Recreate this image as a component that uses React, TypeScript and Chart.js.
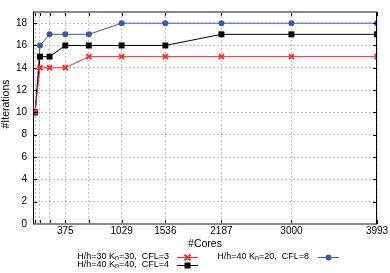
import React, { useEffect, useRef } from "react";
import { Chart, registerables } from "chart.js";

Chart.register(...registerables);

const cores = [24, 81, 192, 375, 648, 1029, 1536, 2187, 3000, 3993];
const labeledCores = [375, 1029, 1536, 2187, 3000, 3993];
const iterRed = [10, 14, 14, 14, 15, 15, 15, 15, 15, 15];
const iterBlack = [10, 15, 15, 16, 16, 16, 16, 17, 17, 17];
const iterBlue = [10, 16, 17, 17, 17, 18, 18, 18, 18, 18];
const yTickValues = [0, 2, 4, 6, 8, 10, 12, 14, 16, 18];
const seriesLabels = [
  "H/h=30 K_n=30,  CFL=3",
  "H/h=40 K_n=40,  CFL=4",
  "H/h=40 K_n=20,  CFL=8",
];
const xTitle = "#Cores";
const yTitle = "#Iterations";

const FONT = "'Liberation Sans', Arial, sans-serif";
const RED = "#ff2a2a";
const BLACK = "#000000";
const BLUE = "#3a58ab";

function drawMarker(ctx: CanvasRenderingContext2D, kind: number, x: number, y: number) {
  ctx.save();
  if (kind === 0) {
    ctx.strokeStyle = RED;
    ctx.lineWidth = 2;
    ctx.beginPath();
    ctx.moveTo(x - 3, y - 3);
    ctx.lineTo(x + 3, y + 3);
    ctx.moveTo(x + 3, y - 3);
    ctx.lineTo(x - 3, y + 3);
    ctx.stroke();
  } else if (kind === 1) {
    ctx.fillStyle = BLACK;
    ctx.fillRect(x - 3, y - 3, 6, 6);
  } else {
    ctx.fillStyle = BLUE;
    ctx.beginPath();
    ctx.arc(x, y, 3, 0, Math.PI * 2);
    ctx.fill();
  }
  ctx.restore();
}

function drawLabelRight(ctx: CanvasRenderingContext2D, label: string, xEnd: number, y: number) {
  const [pre, rest] = label.split("_");
  const sub = rest.charAt(0);
  const post = rest.slice(1);
  ctx.font = `9px ${FONT}`;
  const wPre = ctx.measureText(pre).width;
  const wPost = ctx.measureText(post).width;
  ctx.font = `7px ${FONT}`;
  const wSub = ctx.measureText(sub).width;
  let x = xEnd - (wPre + wSub + wPost);
  ctx.textAlign = "left";
  ctx.textBaseline = "middle";
  ctx.fillStyle = "#000";
  ctx.font = `9px ${FONT}`;
  ctx.fillText(pre, x, y);
  x += wPre;
  ctx.font = `7px ${FONT}`;
  ctx.fillText(sub, x, y + 2);
  x += wSub;
  ctx.font = `9px ${FONT}`;
  ctx.fillText(post, x, y);
}

const framePlugin = {
  id: "frame",
  afterDraw(chart: any) {
    const ctx: CanvasRenderingContext2D = chart.ctx;
    const { left, right, top, bottom } = chart.chartArea;
    const xs = chart.scales.x;
    const ys = chart.scales.y;
    ctx.save();
    // tick marks
    ctx.strokeStyle = "#000";
    ctx.lineWidth = 1;
    ctx.beginPath();
    cores.forEach((c) => {
      const px = Math.round(xs.getPixelForValue(c)) + 0.5;
      ctx.moveTo(px, bottom);
      ctx.lineTo(px, bottom - 4);
      ctx.moveTo(px, top);
      ctx.lineTo(px, top + 4);
    });
    yTickValues.forEach((v) => {
      const py = Math.round(ys.getPixelForValue(v)) + 0.5;
      ctx.moveTo(left, py);
      ctx.lineTo(left + 4, py);
      ctx.moveTo(right, py);
      ctx.lineTo(right - 4, py);
    });
    ctx.stroke();
    // border
    ctx.strokeStyle = "#888";
    ctx.lineWidth = 2;
    ctx.beginPath();
    ctx.moveTo(left, top);
    ctx.lineTo(right, top);
    ctx.moveTo(left, bottom);
    ctx.lineTo(right, bottom);
    ctx.stroke();
    ctx.strokeStyle = "#000";
    ctx.lineWidth = 1;
    ctx.beginPath();
    ctx.moveTo(Math.round(left) + 0.5, top);
    ctx.lineTo(Math.round(left) + 0.5, bottom);
    ctx.moveTo(Math.round(right) - 0.5, top);
    ctx.lineTo(Math.round(right) - 0.5, bottom);
    ctx.stroke();
    // titles
    ctx.fillStyle = "#000";
    ctx.font = `10.5px ${FONT}`;
    ctx.textAlign = "center";
    ctx.textBaseline = "middle";
    ctx.fillText(xTitle, (left + right) / 2, 244);
    ctx.save();
    ctx.translate(6, 104);
    ctx.rotate(-Math.PI / 2);
    ctx.fillText(yTitle, 0, 0);
    ctx.restore();
    // legend
    const cols = [
      { textEnd: 169, lineStart: 177, lineEnd: 198 },
      { textEnd: 309, lineStart: 318, lineEnd: 339 },
    ];
    const rows = [256.5, 264.5];
    const colors = [RED, BLACK, BLUE];
    const placement = [
      [0, 0],
      [0, 1],
      [1, 0],
    ];
    seriesLabels.forEach((label, i) => {
      const col = cols[placement[i][0]];
      const y = rows[placement[i][1]];
      drawLabelRight(ctx, label, col.textEnd, y);
      ctx.strokeStyle = colors[i];
      ctx.lineWidth = 1;
      ctx.beginPath();
      ctx.moveTo(col.lineStart, Math.round(y) + 0.5);
      ctx.lineTo(col.lineEnd, Math.round(y) + 0.5);
      ctx.stroke();
      drawMarker(ctx, i, (col.lineStart + col.lineEnd) / 2, Math.round(y) + 0.5);
    });
    ctx.restore();
  },
};

export default function App() {
  const ref = useRef<HTMLCanvasElement | null>(null);
  useEffect(() => {
    document.body.style.margin = "0";
    const canvas = ref.current;
    if (!canvas) return;
    const mk = (vals: number[]) => cores.map((c, i) => ({ x: c, y: vals[i] }));
    const chart = new Chart(canvas, {
      type: "line",
      data: {
        datasets: [
          {
            label: seriesLabels[0],
            data: mk(iterRed),
            borderColor: RED,
            backgroundColor: RED,
            borderWidth: 1,
            pointStyle: "crossRot",
            pointRadius: 3.5,
            pointBorderWidth: 2,
            pointBorderColor: RED,
          },
          {
            label: seriesLabels[1],
            data: mk(iterBlack),
            borderColor: BLACK,
            backgroundColor: BLACK,
            borderWidth: 1,
            pointStyle: "rect",
            pointRadius: 4.2,
            pointBorderWidth: 0,
          },
          {
            label: seriesLabels[2],
            data: mk(iterBlue),
            borderColor: BLUE,
            backgroundColor: BLUE,
            borderWidth: 1,
            pointStyle: "circle",
            pointRadius: 3,
            pointBorderWidth: 0,
          },
        ],
      },
      options: {
        animation: false,
        responsive: false,
        devicePixelRatio: 1,
        layout: { padding: { top: 8, right: 13, left: 0, bottom: 0 } },
        plugins: { legend: { display: false }, tooltip: { enabled: false } },
        scales: {
          x: {
            type: "linear",
            min: 0,
            max: 3993,
            afterBuildTicks: (scale: any) => {
              scale.ticks = cores.map((v) => ({ value: v }));
            },
            afterFit: (scale: any) => {
              scale.height = 49;
            },
            ticks: {
              autoSkip: false,
              maxRotation: 0,
              padding: 1,
              color: "#000",
              font: { family: FONT, size: 10 },
              callback: (v: any) => (labeledCores.includes(Number(v)) ? String(v) : ""),
            },
            grid: { color: "#c4c4c4", drawTicks: false, lineWidth: 1 },
            border: { display: false, dash: [2, 2] },
          },
          y: {
            min: 0,
            max: 19,
            afterBuildTicks: (scale: any) => {
              scale.ticks = yTickValues.map((v) => ({ value: v }));
            },
            afterFit: (scale: any) => {
              scale.width = 33;
            },
            ticks: {
              padding: 6,
              color: "#000",
              font: { family: FONT, size: 10 },
            },
            grid: { color: "#c4c4c4", drawTicks: false, lineWidth: 1 },
            border: { display: false, dash: [2, 2] },
          },
        },
      },
      plugins: [framePlugin],
    } as any);
    return () => chart.destroy();
  }, []);
  return <canvas ref={ref} width={390} height={273} style={{ display: "block" }} />;
}
